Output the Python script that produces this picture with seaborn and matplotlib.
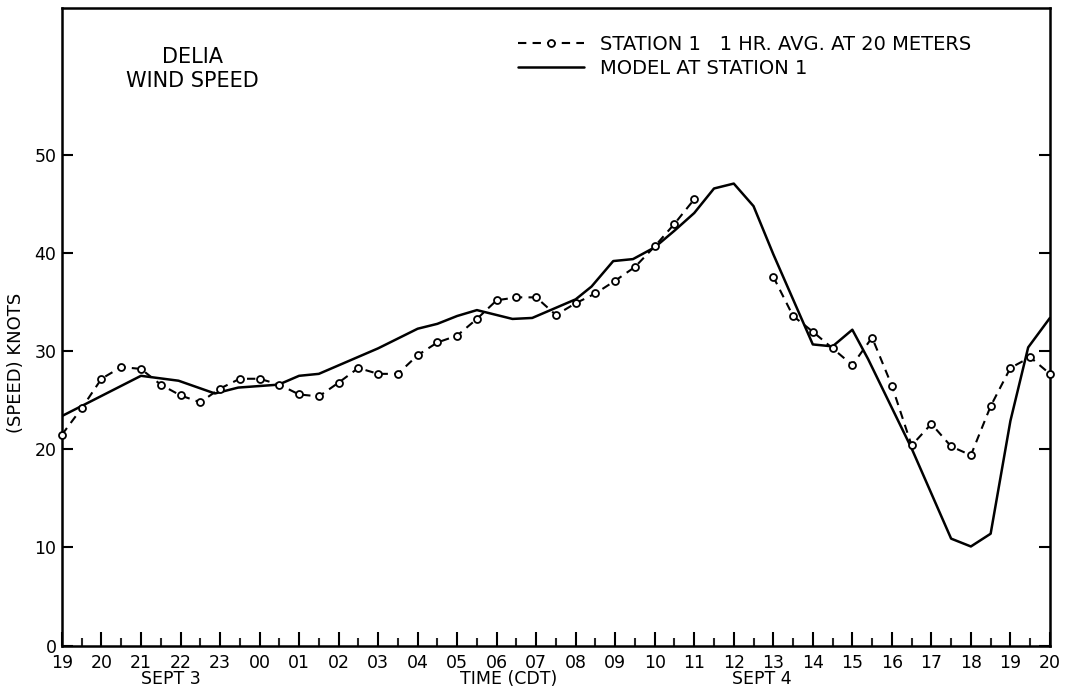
import numpy as np
import pandas as pd
import matplotlib
matplotlib.use("Agg")
import matplotlib.pyplot as plt
from matplotlib.lines import Line2D
from matplotlib.ticker import MultipleLocator
import seaborn as sns

# ---- data (hours since 19:00 CDT, Sept 3) ----
hour_labels = ["19", "20", "21", "22", "23", "00", "01", "02", "03", "04", "05", "06",
               "07", "08", "09", "10", "11", "12", "13", "14", "15", "16", "17", "18",
               "19", "20"]

model_t = [0.0, 2.0, 2.95, 3.87, 4.46, 5.48, 6.0, 6.5, 8.0, 9.0, 9.5, 10.0, 10.5,
           11.4, 11.9, 13.0, 13.4, 13.95, 14.45, 15.0, 15.5, 16.0, 16.5, 17.0, 17.5,
           18.0, 19.0, 19.5, 20.0, 20.4, 21.5, 22.5, 23.0, 23.5, 24.0, 24.45, 25.0]
model_v = [23.4, 27.5, 27.0, 25.7, 26.3, 26.6, 27.5, 27.7, 30.3, 32.3, 32.8, 33.6, 34.2,
           33.3, 33.4, 35.3, 36.6, 39.2, 39.4, 40.6, 42.3, 44.1, 46.6, 47.1, 44.8,
           39.9, 30.7, 30.5, 32.2, 29.2, 20.1, 10.9, 10.1, 11.4, 22.9, 30.4, 33.4]

# station 1, 1 hr average at 20 m (half-hourly), first segment 19:00-11:00
station_t_a = [0.0, 0.5, 1.0, 1.5, 2.0, 2.5, 3.0, 3.5, 4.0, 4.5, 5.0, 5.5, 6.0,
               6.5, 7.0, 7.5, 8.0, 8.5, 9.0, 9.5, 10.0, 10.5, 11.0, 11.5, 12.0,
               12.5, 13.0, 13.5, 14.0, 14.5, 15.0, 15.5, 16.0]
station_v_a = [21.5, 24.2, 27.2, 28.4, 28.2, 26.6, 25.5, 24.8, 26.2, 27.2, 27.2, 26.6, 25.6,
               25.4, 26.8, 28.3, 27.7, 27.7, 29.6, 30.9, 31.6, 33.3, 35.2, 35.5, 35.5,
               33.7, 34.9, 35.9, 37.2, 38.6, 40.7, 43.0, 45.5]
# second segment 13:00-20:00 Sept 4
station_t_b = [18.0, 18.5, 19.0, 19.5, 20.0, 20.5, 21.0, 21.5, 22.0, 22.5, 23.0,
               23.5, 24.0, 24.5, 25.0]
station_v_b = [37.6, 33.6, 32.0, 30.3, 28.6, 31.4, 26.5, 20.4, 22.6, 20.3, 19.4,
               24.4, 28.3, 29.4, 27.7]

y_ticks = [0, 10, 20, 30, 40, 50]

# ---- figure ----
sns.set_theme(style="white")
plt.rcParams["font.family"] = ["DejaVu Sans"]

fig = plt.figure(figsize=(10.72, 6.91), dpi=100)
ax = fig.add_axes([0.0578, 0.0658, 0.9216, 0.9226])

df_model = pd.DataFrame({"t": model_t, "v": model_v})
df_a = pd.DataFrame({"t": station_t_a, "v": station_v_a})
df_b = pd.DataFrame({"t": station_t_b, "v": station_v_b})

sns.lineplot(data=df_model, x="t", y="v", ax=ax, color="black", linewidth=1.8,
             estimator=None, sort=False, zorder=3)
for d in (df_a, df_b):
    sns.lineplot(data=d, x="t", y="v", ax=ax, color="black", linewidth=1.5,
                 linestyle=(0, (4, 3)), marker="o", markersize=5,
                 markerfacecolor="white", markeredgecolor="black",
                 markeredgewidth=1.3, estimator=None, sort=False, zorder=4,
                 clip_on=False)

ax.set_xlim(0, 25)
ax.set_ylim(0, 65)

# spines
for s in ax.spines.values():
    s.set_color("black")
    s.set_linewidth(1.8)

# ticks
ax.set_xticks(range(len(hour_labels)))
ax.set_xticklabels(hour_labels)
ax.xaxis.set_minor_locator(MultipleLocator(0.5))
ax.set_yticks(y_ticks)
ax.set_yticklabels([str(v) for v in y_ticks])
ax.tick_params(axis="x", which="major", direction="in", length=10, width=1.5,
               bottom=True, top=False, labelsize=12.5, pad=6, colors="black")
ax.tick_params(axis="x", which="minor", direction="in", length=6, width=1.5,
               bottom=True, top=False)
ax.tick_params(axis="y", which="major", direction="in", length=8, width=1.5,
               left=True, right=True, labelsize=12.5, pad=4, colors="black")
ax.tick_params(axis="y", which="minor", left=False, right=False)

ax.set_xlabel("")
ax.set_ylabel("(SPEED) KNOTS", fontsize=13, color="black")
ax.yaxis.set_label_coords(-0.037, 0.443)

# second row of x labels
ax.text(2.75, -0.053, "SEPT 3", transform=ax.get_xaxis_transform(),
        ha="center", va="center", fontsize=12.5, color="black")
ax.text(11.3, -0.053, "TIME (CDT)", transform=ax.get_xaxis_transform(),
        ha="center", va="center", fontsize=12.5, color="black")
ax.text(17.7, -0.053, "SEPT 4", transform=ax.get_xaxis_transform(),
        ha="center", va="center", fontsize=12.5, color="black")

# title block
ax.text(0.132, 0.905, "DELIA\nWIND SPEED", transform=ax.transAxes,
        ha="center", va="center", fontsize=15, linespacing=1.25, color="black")

# legend
handles = [
    Line2D([], [], color="black", linewidth=1.5, linestyle=(0, (4, 3)), marker="o",
           markersize=5, markerfacecolor="white", markeredgecolor="black",
           markeredgewidth=1.3),
    Line2D([], [], color="black", linewidth=1.8),
]
labels = ["STATION 1   1 HR. AVG. AT 20 METERS", "MODEL AT STATION 1"]
leg = ax.legend(handles, labels, loc="upper left",
                bbox_to_anchor=((518 - 62) / 988, (645.5 - 35) / 637.5),
                frameon=False, fontsize=14, handlelength=3.4, handletextpad=0.8,
                labelspacing=0.25, borderpad=0, borderaxespad=0, markerfirst=True)
for t in leg.get_texts():
    t.set_color("black")

fig.savefig("out.png", dpi=100, facecolor="white")
